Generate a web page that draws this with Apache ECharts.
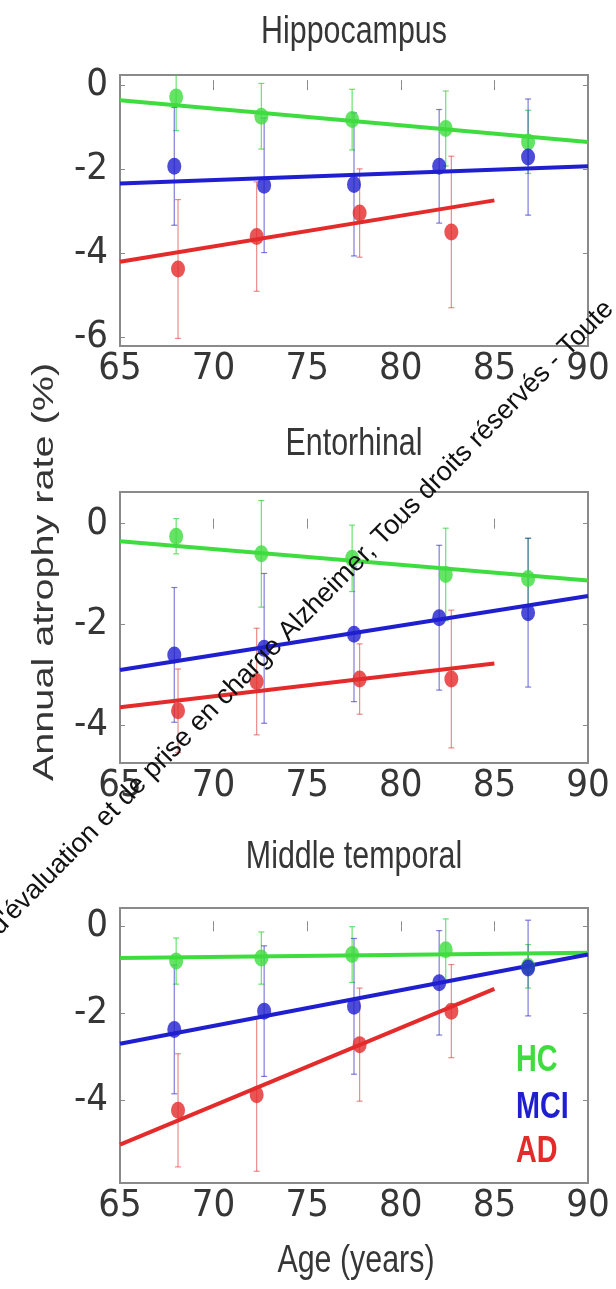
<!DOCTYPE html>
<html>
<head>
<meta charset="utf-8">
<title>Annual atrophy rate by age</title>
<script src="https://cdn.jsdelivr.net/npm/echarts@6/dist/echarts.min.js"></script>
<style>
html, body { margin: 0; padding: 0; background: #fff; }
#main { width: 616px; height: 1289px; }
</style>
</head>
<body>
<div id="main"></div>
<script>
var myChart = echarts.init(document.getElementById('main'));

var regions = ['Hippocampus', 'Entorhinal', 'Middle temporal'];
var groups = ['HC', 'MCI', 'AD'];
var colors = ['#3fdc3f', '#1f1fd0', '#e42b2b'];
var errColors = ['rgba(60,215,60,0.75)', 'rgba(40,40,190,0.6)', 'rgba(225,60,60,0.6)'];

// mean age of each group bin
var ageHC = [68.0, 72.55, 77.4, 82.4, 86.8];
var ageMCI = [67.9, 72.7, 77.5, 82.05, 86.8];
var ageAD = [68.1, 72.3, 77.8, 82.7];
// age range of the fitted lines
var fitAgeHC = [65, 90];
var fitAgeMCI = [65, 90];
var fitAgeAD = [65, 85];

// Hippocampus
var hipHC = [-0.28, -0.74, -0.82, -1.03, -1.35];
var hipHCErr = [0.8, 0.78, 0.72, 0.89, 0.75];
var hipMCI = [-1.93, -2.38, -2.36, -1.93, -1.71];
var hipMCIErr = [1.4, 1.6, 1.7, 1.35, 1.38];
var hipAD = [-4.37, -3.6, -3.04, -3.49];
var hipADErr = [1.65, 1.3, 1.05, 1.8];
var hipFitHC = [-0.36, -1.35];
var hipFitMCI = [-2.34, -1.93];
var hipFitAD = [-4.2, -2.74];

// Entorhinal
var entHC = [-0.25, -0.6, -0.69, -1.01, -1.09];
var entHCErr = [0.35, 1.06, 0.66, 0.92, 0.8];
var entMCI = [-2.61, -2.48, -2.2, -1.87, -1.77];
var entMCIErr = [1.34, 1.49, 1.34, 1.44, 1.48];
var entAD = [-3.72, -3.14, -3.09, -3.09];
var entADErr = [0.83, 1.06, 0.7, 1.37];
var entFitHC = [-0.35, -1.13];
var entFitMCI = [-2.91, -1.44];
var entFitAD = [-3.65, -2.78];

// Middle temporal
var midHC = [-0.8, -0.73, -0.65, -0.54, -0.92];
var midHCErr = [0.53, 0.6, 0.64, 0.71, 0.5];
var midMCI = [-2.37, -1.95, -1.84, -1.3, -0.96];
var midMCIErr = [1.48, 1.5, 1.56, 1.2, 1.1];
var midAD = [-4.23, -3.87, -2.72, -1.95];
var midADErr = [1.3, 1.76, 1.3, 1.07];
var midFitHC = [-0.73, -0.61];
var midFitMCI = [-2.7, -0.65];
var midFitAD = [-5.02, -1.44];

// y tick labels of each panel
var yTicksHip = [-6, -4, -2, 0];
var yTicksEnt = [-4, -2, 0];
var yTicksMid = [-4, -2, 0];

var ages = [ageHC, ageMCI, ageAD];
var fitAges = [fitAgeHC, fitAgeMCI, fitAgeAD];
var means = [[hipHC, hipMCI, hipAD], [entHC, entMCI, entAD], [midHC, midMCI, midAD]];
var errs = [[hipHCErr, hipMCIErr, hipADErr], [entHCErr, entMCIErr, entADErr], [midHCErr, midMCIErr, midADErr]];
var fits = [[hipFitHC, hipFitMCI, hipFitAD], [entFitHC, entFitMCI, entFitAD], [midFitHC, midFitMCI, midFitAD]];
var yTicks = [yTicksHip, yTicksEnt, yTicksMid];

var yRange = [[-6.2, 0.24], [-4.76, 0.63], [-5.9, 0.42]];
var gridTop = [75, 492, 908];
var gridHeight = [271, 271, 275];

var tickFont = '"Liberation Sans Narrow", "DejaVu Sans Condensed", "Liberation Sans", sans-serif';
var textColor = '#363636';

function errorBar(params, api) {
    var x = api.value(0);
    var lo = api.coord([x, api.value(1)]);
    var hi = api.coord([x, api.value(2)]);
    var style = { stroke: api.visual('color'), lineWidth: 1.2 };
    return {
        type: 'group',
        children: [
            { type: 'line', shape: { x1: lo[0], y1: lo[1], x2: hi[0], y2: hi[1] }, style: style },
            { type: 'line', shape: { x1: lo[0] - 3, y1: lo[1], x2: lo[0] + 3, y2: lo[1] }, style: style },
            { type: 'line', shape: { x1: hi[0] - 3, y1: hi[1], x2: hi[0] + 3, y2: hi[1] }, style: style }
        ]
    };
}

var grid = [], xAxis = [], yAxis = [], series = [];

for (var p = 0; p < 3; p++) {
    grid.push({
        left: 120, width: 468, top: gridTop[p], height: gridHeight[p],
        show: true, borderColor: '#8a8a8a', borderWidth: 2, backgroundColor: '#fff'
    });
    ['bottom', 'top'].forEach(function (pos) {
        xAxis.push({
            gridIndex: p, type: 'value', position: pos,
            min: 65, max: 90, interval: 5,
            axisLine: { show: false },
            axisTick: { inside: true, length: 5, lineStyle: { color: '#8a8a8a' } },
            splitLine: { show: false },
            axisLabel: {
                show: pos === 'bottom', margin: 4,
                fontSize: 38, fontFamily: tickFont, color: textColor
            }
        });
    });
    ['left', 'right'].forEach(function (pos) {
        yAxis.push({
            gridIndex: p, type: 'value', position: pos,
            min: yRange[p][0], max: yRange[p][1],
            axisLine: { show: false },
            axisTick: { inside: true, length: 5, customValues: yTicks[p], lineStyle: { color: '#8a8a8a' } },
            splitLine: { show: false },
            axisLabel: {
                show: pos === 'left', customValues: yTicks[p], margin: 12,
                fontSize: 38, fontFamily: tickFont, color: textColor
            }
        });
    });

    // error bars
    for (var g = 0; g < 3; g++) {
        var bars = ages[g].map(function (a, i) {
            return [a, means[p][g][i] - errs[p][g][i], means[p][g][i] + errs[p][g][i]];
        });
        series.push({
            type: 'custom', name: groups[g], xAxisIndex: 2 * p, yAxisIndex: 2 * p,
            renderItem: errorBar, encode: { x: 0, y: [1, 2] }, clip: true,
            itemStyle: { color: errColors[g] }, data: bars, z: 2
        });
    }
    // fitted lines
    for (var g = 0; g < 3; g++) {
        series.push({
            type: 'line', name: groups[g], xAxisIndex: 2 * p, yAxisIndex: 2 * p,
            symbol: 'none', lineStyle: { width: 4, color: colors[g] },
            data: fitAges[g].map(function (a, i) { return [a, fits[p][g][i]]; }),
            z: 3
        });
    }
    // group means
    for (var g = 0; g < 3; g++) {
        series.push({
            type: 'scatter', name: groups[g], xAxisIndex: 2 * p, yAxisIndex: 2 * p,
            symbol: 'circle', symbolSize: [14, 17],
            itemStyle: { color: colors[g] },
            data: ages[g].map(function (a, i) { return [a, means[p][g][i]]; }),
            z: 4
        });
    }
}

var titleY = [33, 445, 858];
var graphic = regions.map(function (r, i) {
    return {
        type: 'text', x: 354, y: titleY[i], scaleX: 0.8,
        style: { text: r, font: '38px "Liberation Sans", sans-serif', fill: textColor, textAlign: 'center', textVerticalAlign: 'middle' }
    };
});
graphic.push({
    type: 'text', x: 45, y: 572, rotation: Math.PI / 2, scaleX: 1.32,
    style: { text: 'Annual atrophy rate (%)', font: '30px "Liberation Sans", sans-serif', fill: textColor, textAlign: 'center', textVerticalAlign: 'middle' }
});
graphic.push({
    type: 'text', x: 356, y: 1262, scaleX: 0.8,
    style: { text: 'Age (years)', font: '38px "Liberation Sans", sans-serif', fill: textColor, textAlign: 'center', textVerticalAlign: 'middle' }
});
var legendY = [1061, 1108, 1152];
groups.forEach(function (name, i) {
    graphic.push({
        type: 'text', x: 516, y: legendY[i], scaleX: 0.8,
        style: { text: name, font: 'bold 36px "Liberation Sans", sans-serif', fill: colors[i], textAlign: 'left', textVerticalAlign: 'middle' },
        z: 50
    });
});
graphic.push({
    type: 'text', x: 4, y: 940, rotation: 45.5 * Math.PI / 180, z: 100,
    style: { text: "d'\u00e9valuation et de prise en charge Alzheimer, Tous droits r\u00e9serv\u00e9s - Toute", font: '27px "Liberation Sans", sans-serif', fill: '#111', textAlign: 'left', textVerticalAlign: 'bottom' }
});

var option = {
    backgroundColor: '#fff',
    animation: false,
    grid: grid,
    xAxis: xAxis,
    yAxis: yAxis,
    series: series,
    graphic: graphic
};

myChart.setOption(option);
</script>
</body>
</html>
